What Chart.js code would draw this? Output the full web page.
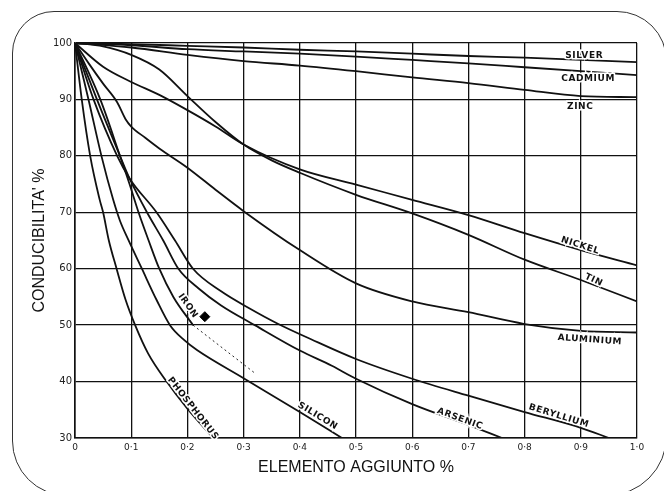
<!DOCTYPE html>
<html>
<head>
<meta charset="utf-8">
<script src="https://cdn.jsdelivr.net/npm/chart.js@4"></script>
<style>
  html, body { margin: 0; padding: 0; background: #fff; overflow: hidden; }
  #wrap { position: relative; width: 664px; height: 491px; overflow: hidden; }
  #chart { position: absolute; left: 0; top: 0; }
  /* cornice arrotondata della figura */
  #frame {
    position: absolute; left: 12px; top: 11px; width: 653px; height: 483px;
    border: 1.5px solid #333;
    border-radius: 42px 50px 60px 55px;
    pointer-events: none;
  }
</style>
</head>
<body>
<div id="wrap">
  <canvas id="chart" width="664" height="491"></canvas>
  <div id="frame"></div>
</div>
<script>
// tick labels
const xTickLabels = ["0", "0·1", "0·2", "0·3", "0·4", "0·5", "0·6", "0·7", "0·8", "0·9", "1·0"];
const yTickLabels = ["30", "40", "50", "60", "70", "80", "90", "100"];

// curve (elemento aggiunto %, conducibilità %)
const silverX = [0, 0.1, 0.2, 0.3, 0.4, 0.5, 0.6, 0.7, 0.8, 0.9, 1.0];
const silverY = [100, 99.8, 99.5, 99.2, 98.8, 98.5, 98.1, 97.7, 97.4, 97.0, 96.6];

const cadmiumX = [0, 0.1, 0.2, 0.3, 0.4, 0.5, 0.6, 0.7, 0.8, 0.9, 1.0];
const cadmiumY = [100, 99.6, 98.9, 98.5, 98.1, 97.6, 97.0, 96.4, 95.7, 95.0, 94.3];

const zincX = [0, 0.1, 0.2, 0.3, 0.4, 0.5, 0.6, 0.7, 0.8, 0.9, 1.0];
const zincY = [100, 99.2, 97.9, 96.8, 96.0, 95.0, 93.9, 92.9, 91.7, 90.6, 90.4];

const nickelX = [0, 0.05, 0.1, 0.15, 0.2, 0.25, 0.3, 0.4, 0.5, 0.6, 0.7, 0.8, 0.9, 1.0];
const nickelY = [100, 95.8, 93.1, 90.8, 88.1, 85.2, 82.0, 77.6, 74.9, 72.2, 69.5, 66.3, 63.3, 60.6];

const tinX = [0, 0.05, 0.1, 0.15, 0.2, 0.25, 0.3, 0.35, 0.4, 0.5, 0.6, 0.7, 0.8, 0.9, 1.0];
const tinY = [100, 99.4, 97.9, 95.3, 90.6, 86.0, 82.0, 79.2, 77.0, 73.1, 69.8, 66.0, 61.6, 58.0, 54.2];

const aluminiumX = [0, 0.025, 0.05, 0.075, 0.09, 0.1, 0.125, 0.15, 0.2, 0.25, 0.3, 0.4, 0.5, 0.6, 0.7, 0.8, 0.9, 1.0];
const aluminiumY = [100, 96.3, 92.8, 89.5, 86.5, 85.2, 83.2, 81.3, 77.9, 74.0, 70.2, 63.3, 57.4, 54.2, 52.3, 50.2, 49.0, 48.7];

const berylliumX = [0, 0.033, 0.075, 0.097, 0.145, 0.178, 0.21, 0.26, 0.31, 0.36, 0.42, 0.5, 0.6, 0.7, 0.8, 0.9, 0.95];
const berylliumY = [100, 90, 80, 76, 70, 65, 60, 56, 53, 50.3, 47.5, 44, 40.5, 37.5, 34.6, 31.8, 30];

const arsenicX = [0, 0.039, 0.08, 0.097, 0.128, 0.157, 0.184, 0.22, 0.26, 0.32, 0.4, 0.457, 0.5, 0.6, 0.7, 0.76];
const arsenicY = [100, 90, 80, 76, 70, 65, 60, 56.5, 53.5, 50, 45.5, 42.8, 40.5, 36, 32.3, 30];

const ironX = [0, 0.045, 0.08, 0.097, 0.113, 0.131, 0.15, 0.175, 0.21];
const ironY = [100, 90, 80, 75, 70, 65, 60, 55, 50];
const ironDotX = [0.21, 0.32];
const ironDotY = [50, 41.5];

const siliconX = [0, 0.012, 0.024, 0.047, 0.068, 0.08, 0.095, 0.119, 0.145, 0.169, 0.195, 0.217, 0.3, 0.4, 0.475];
const siliconY = [100, 95, 90, 80, 72.2, 68.5, 65.1, 60, 54.5, 50, 47.3, 45.6, 40.6, 34.6, 30];

const phosphorusX = [0, 0.012, 0.027, 0.044, 0.05, 0.06, 0.074, 0.09, 0.107, 0.13, 0.163, 0.2, 0.246];
const phosphorusY = [100, 90, 80, 72.2, 70, 65.1, 60, 54.5, 50, 45, 40, 35.2, 30];

const markerX = [0.231];
const markerY = [51.5];

// nomi sulle curve: [testo, x, y, angolo in gradi]
const curveLabels = [
  ["SILVER", 0.906, 97.7, 0],
  ["CADMIUM", 0.913, 93.6, 0],
  ["ZINC", 0.899, 88.8, 0],
  ["NICKEL", 0.899, 64.1, 18],
  ["TIN", 0.923, 58.0, 25],
  ["ALUMINIUM", 0.916, 47.4, 4],
  ["BERYLLIUM", 0.861, 33.9, 17],
  ["ARSENIC", 0.685, 33.4, 20],
  ["SILICON", 0.432, 33.9, 31],
  ["PHOSPHORUS", 0.21, 35.2, 52],
  ["IRON", 0.201, 53.4, 55]
];

function pts(xs, ys) {
  return xs.map((x, i) => ({ x: x, y: ys[i] }));
}

function curve(xs, ys) {
  return {
    data: pts(xs, ys),
    borderColor: "#111",
    borderWidth: 1.8,
    pointRadius: 0,
    cubicInterpolationMode: "monotone",
    fill: false
  };
}

const labelPlugin = {
  id: "curveLabels",
  afterDatasetsDraw(chart) {
    const ctx = chart.ctx;
    const xs = chart.scales.x;
    const ys = chart.scales.y;
    ctx.save();
    ctx.font = "bold 9px 'DejaVu Sans'";
    ctx.textAlign = "center";
    ctx.textBaseline = "middle";
    if ("letterSpacing" in ctx) ctx.letterSpacing = "0.6px";
    curveLabels.forEach(([text, lx, ly, ang]) => {
      ctx.save();
      ctx.translate(xs.getPixelForValue(lx), ys.getPixelForValue(ly));
      ctx.rotate(ang * Math.PI / 180);
      ctx.strokeStyle = "#fff";
      ctx.lineWidth = 3;
      ctx.strokeText(text, 0, 0);
      ctx.fillStyle = "#111";
      ctx.fillText(text, 0, 0);
      ctx.restore();
    });
    ctx.restore();
  }
};

new Chart(document.getElementById("chart"), {
  type: "line",
  data: {
    datasets: [
      curve(silverX, silverY),
      curve(cadmiumX, cadmiumY),
      curve(zincX, zincY),
      curve(nickelX, nickelY),
      curve(tinX, tinY),
      curve(aluminiumX, aluminiumY),
      curve(berylliumX, berylliumY),
      curve(arsenicX, arsenicY),
      curve(ironX, ironY),
      curve(siliconX, siliconY),
      curve(phosphorusX, phosphorusY),
      {
        data: pts(ironDotX, ironDotY),
        borderColor: "#222",
        borderWidth: 1,
        borderDash: [2, 3],
        pointRadius: 0
      },
      {
        data: pts(markerX, markerY),
        showLine: false,
        pointStyle: "rectRot",
        pointRadius: 5,
        backgroundColor: "#000",
        borderColor: "#000"
      }
    ]
  },
  options: {
    responsive: false,
    animation: false,
    layout: { padding: { top: 43, right: 27, left: 0, bottom: 0 } },
    plugins: {
      legend: { display: false },
      tooltip: { enabled: false }
    },
    scales: {
      x: {
        type: "linear",
        min: 0,
        max: 1,
        grid: { color: "#111", lineWidth: 1.3, drawTicks: false },
        border: { color: "#111", width: 1.6 },
        ticks: {
          stepSize: 0.1,
          padding: 4,
          color: "#222",
          font: { family: "DejaVu Sans", size: 9 },
          maxRotation: 0,
          callback: (v, i) => xTickLabels[i]
        },
        title: {
          display: true,
          text: "ELEMENTO AGGIUNTO %",
          color: "#111",
          font: { family: "Liberation Sans", size: 16 },
          padding: { top: 0, bottom: 14 }
        },
        afterFit: (s) => { s.height = 53; }
      },
      y: {
        min: 30,
        max: 100,
        grid: { color: "#111", lineWidth: 1.3, drawTicks: false },
        border: { color: "#111", width: 1.6 },
        ticks: {
          stepSize: 10,
          padding: 3,
          color: "#222",
          font: { family: "DejaVu Sans", size: 10 },
          callback: (v, i) => yTickLabels[i]
        },
        title: {
          display: true,
          text: "CONDUCIBILITA' %",
          color: "#111",
          font: { family: "Liberation Sans", size: 16 },
          padding: { top: 30, bottom: 0 }
        },
        afterFit: (s) => { s.width = 75; }
      }
    }
  },
  plugins: [labelPlugin]
});
</script>
</body>
</html>
